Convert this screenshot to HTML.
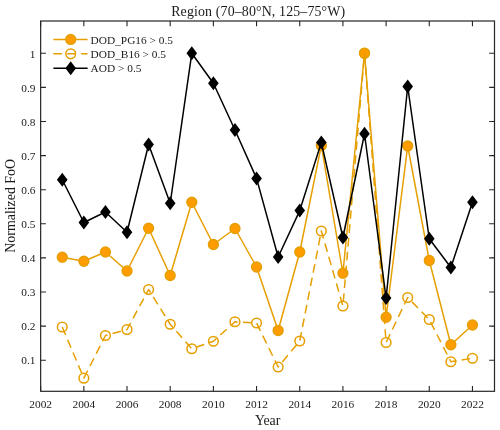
<!DOCTYPE html>
<html><head><meta charset="utf-8"><title>Region (70–80°N, 125–75°W)</title>
<style>
html,body{margin:0;padding:0;background:#fff}
svg{display:block}
text{font-family:"Liberation Serif","DejaVu Serif",serif;fill:#1a1a1a}
.t{font-size:11.35px}
.l{font-size:13.9px}
</style></head><body>
<svg width="500" height="430" viewBox="0 0 500 430">
<rect width="500" height="430" fill="#fff"/>
<polyline points="62.25,257.25 83.84,261.25 105.43,252.00 127.02,271.00 148.61,228.25 170.20,275.50 191.79,202.25 213.38,244.50 234.97,228.50 256.56,267.00 278.15,330.50 299.74,252.00 321.33,145.40 342.92,273.25 364.51,53.25 386.10,317.25 407.69,146.00 429.28,260.50 450.87,344.75 472.46,325.00" fill="none" stroke="#E69F00" stroke-width="1.5" stroke-linejoin="round"/>
<circle cx="62.25" cy="257.25" r="4.9" fill="#FF9C00" stroke="#E69F00" stroke-width="1.5"/>
<circle cx="83.84" cy="261.25" r="4.9" fill="#FF9C00" stroke="#E69F00" stroke-width="1.5"/>
<circle cx="105.43" cy="252.00" r="4.9" fill="#FF9C00" stroke="#E69F00" stroke-width="1.5"/>
<circle cx="127.02" cy="271.00" r="4.9" fill="#FF9C00" stroke="#E69F00" stroke-width="1.5"/>
<circle cx="148.61" cy="228.25" r="4.9" fill="#FF9C00" stroke="#E69F00" stroke-width="1.5"/>
<circle cx="170.20" cy="275.50" r="4.9" fill="#FF9C00" stroke="#E69F00" stroke-width="1.5"/>
<circle cx="191.79" cy="202.25" r="4.9" fill="#FF9C00" stroke="#E69F00" stroke-width="1.5"/>
<circle cx="213.38" cy="244.50" r="4.9" fill="#FF9C00" stroke="#E69F00" stroke-width="1.5"/>
<circle cx="234.97" cy="228.50" r="4.9" fill="#FF9C00" stroke="#E69F00" stroke-width="1.5"/>
<circle cx="256.56" cy="267.00" r="4.9" fill="#FF9C00" stroke="#E69F00" stroke-width="1.5"/>
<circle cx="278.15" cy="330.50" r="4.9" fill="#FF9C00" stroke="#E69F00" stroke-width="1.5"/>
<circle cx="299.74" cy="252.00" r="4.9" fill="#FF9C00" stroke="#E69F00" stroke-width="1.5"/>
<circle cx="321.33" cy="145.40" r="4.9" fill="#FF9C00" stroke="#E69F00" stroke-width="1.5"/>
<circle cx="342.92" cy="273.25" r="4.9" fill="#FF9C00" stroke="#E69F00" stroke-width="1.5"/>
<circle cx="364.51" cy="53.25" r="4.9" fill="#FF9C00" stroke="#E69F00" stroke-width="1.5"/>
<circle cx="386.10" cy="317.25" r="4.9" fill="#FF9C00" stroke="#E69F00" stroke-width="1.5"/>
<circle cx="407.69" cy="146.00" r="4.9" fill="#FF9C00" stroke="#E69F00" stroke-width="1.5"/>
<circle cx="429.28" cy="260.50" r="4.9" fill="#FF9C00" stroke="#E69F00" stroke-width="1.5"/>
<circle cx="450.87" cy="344.75" r="4.9" fill="#FF9C00" stroke="#E69F00" stroke-width="1.5"/>
<circle cx="472.46" cy="325.00" r="4.9" fill="#FF9C00" stroke="#E69F00" stroke-width="1.5"/>
<polyline points="62.25,327.00 83.84,378.20 105.43,335.50 127.02,329.50 148.61,289.50 170.20,324.25 191.79,348.75 213.38,341.25 234.97,321.75 256.56,323.00 278.15,367.00 299.74,341.00 321.33,231.00 342.92,306.00 364.51,53.25 386.10,342.50 407.69,297.50 429.28,319.50 450.87,361.75 472.46,358.25" fill="none" stroke="#E69F00" stroke-width="1.5" stroke-dasharray="8.66 5.19" stroke-linejoin="round"/>
<circle cx="62.25" cy="327.00" r="4.85" fill="none" stroke="#E69F00" stroke-width="1.5"/>
<circle cx="83.84" cy="378.20" r="4.85" fill="none" stroke="#E69F00" stroke-width="1.5"/>
<circle cx="105.43" cy="335.50" r="4.85" fill="none" stroke="#E69F00" stroke-width="1.5"/>
<circle cx="127.02" cy="329.50" r="4.85" fill="none" stroke="#E69F00" stroke-width="1.5"/>
<circle cx="148.61" cy="289.50" r="4.85" fill="none" stroke="#E69F00" stroke-width="1.5"/>
<circle cx="170.20" cy="324.25" r="4.85" fill="none" stroke="#E69F00" stroke-width="1.5"/>
<circle cx="191.79" cy="348.75" r="4.85" fill="none" stroke="#E69F00" stroke-width="1.5"/>
<circle cx="213.38" cy="341.25" r="4.85" fill="none" stroke="#E69F00" stroke-width="1.5"/>
<circle cx="234.97" cy="321.75" r="4.85" fill="none" stroke="#E69F00" stroke-width="1.5"/>
<circle cx="256.56" cy="323.00" r="4.85" fill="none" stroke="#E69F00" stroke-width="1.5"/>
<circle cx="278.15" cy="367.00" r="4.85" fill="none" stroke="#E69F00" stroke-width="1.5"/>
<circle cx="299.74" cy="341.00" r="4.85" fill="none" stroke="#E69F00" stroke-width="1.5"/>
<circle cx="321.33" cy="231.00" r="4.85" fill="none" stroke="#E69F00" stroke-width="1.5"/>
<circle cx="342.92" cy="306.00" r="4.85" fill="none" stroke="#E69F00" stroke-width="1.5"/>
<circle cx="364.51" cy="53.25" r="4.85" fill="none" stroke="#E69F00" stroke-width="1.5"/>
<circle cx="386.10" cy="342.50" r="4.85" fill="none" stroke="#E69F00" stroke-width="1.5"/>
<circle cx="407.69" cy="297.50" r="4.85" fill="none" stroke="#E69F00" stroke-width="1.5"/>
<circle cx="429.28" cy="319.50" r="4.85" fill="none" stroke="#E69F00" stroke-width="1.5"/>
<circle cx="450.87" cy="361.75" r="4.85" fill="none" stroke="#E69F00" stroke-width="1.5"/>
<circle cx="472.46" cy="358.25" r="4.85" fill="none" stroke="#E69F00" stroke-width="1.5"/>
<polyline points="62.25,179.75 83.84,222.50 105.43,212.00 127.02,232.25 148.61,144.50 170.20,203.25 191.79,53.30 213.38,83.25 234.97,130.00 256.56,178.40 278.15,257.00 299.74,210.60 321.33,142.50 342.92,237.50 364.51,133.75 386.10,298.00 407.69,86.50 429.28,238.75 450.87,267.50 472.46,202.25" fill="none" stroke="#000" stroke-width="1.5" stroke-linejoin="round"/>
<path d="M62.25 172.75L67.55 179.75L62.25 186.75L56.95 179.75Z" fill="#000"/>
<path d="M83.84 215.50L89.14 222.50L83.84 229.50L78.54 222.50Z" fill="#000"/>
<path d="M105.43 205.00L110.73 212.00L105.43 219.00L100.13 212.00Z" fill="#000"/>
<path d="M127.02 225.25L132.32 232.25L127.02 239.25L121.72 232.25Z" fill="#000"/>
<path d="M148.61 137.50L153.91 144.50L148.61 151.50L143.31 144.50Z" fill="#000"/>
<path d="M170.20 196.25L175.50 203.25L170.20 210.25L164.90 203.25Z" fill="#000"/>
<path d="M191.79 46.30L197.09 53.30L191.79 60.30L186.49 53.30Z" fill="#000"/>
<path d="M213.38 76.25L218.68 83.25L213.38 90.25L208.08 83.25Z" fill="#000"/>
<path d="M234.97 123.00L240.27 130.00L234.97 137.00L229.67 130.00Z" fill="#000"/>
<path d="M256.56 171.40L261.86 178.40L256.56 185.40L251.26 178.40Z" fill="#000"/>
<path d="M278.15 250.00L283.45 257.00L278.15 264.00L272.85 257.00Z" fill="#000"/>
<path d="M299.74 203.60L305.04 210.60L299.74 217.60L294.44 210.60Z" fill="#000"/>
<path d="M321.33 135.50L326.63 142.50L321.33 149.50L316.03 142.50Z" fill="#000"/>
<path d="M342.92 230.50L348.22 237.50L342.92 244.50L337.62 237.50Z" fill="#000"/>
<path d="M364.51 126.75L369.81 133.75L364.51 140.75L359.21 133.75Z" fill="#000"/>
<path d="M386.10 291.00L391.40 298.00L386.10 305.00L380.80 298.00Z" fill="#000"/>
<path d="M407.69 79.50L412.99 86.50L407.69 93.50L402.39 86.50Z" fill="#000"/>
<path d="M429.28 231.75L434.58 238.75L429.28 245.75L423.98 238.75Z" fill="#000"/>
<path d="M450.87 260.50L456.17 267.50L450.87 274.50L445.57 267.50Z" fill="#000"/>
<path d="M472.46 195.25L477.76 202.25L472.46 209.25L467.16 202.25Z" fill="#000"/>
<rect x="40.65" y="21.00" width="453.85" height="370.30" fill="none" stroke="#262626" stroke-width="1.2"/>
<path d="M40.66 391.30v-5.30M40.66 21.00v5.30M83.84 391.30v-5.30M83.84 21.00v5.30M127.02 391.30v-5.30M127.02 21.00v5.30M170.20 391.30v-5.30M170.20 21.00v5.30M213.38 391.30v-5.30M213.38 21.00v5.30M256.56 391.30v-5.30M256.56 21.00v5.30M299.74 391.30v-5.30M299.74 21.00v5.30M342.92 391.30v-5.30M342.92 21.00v5.30M386.10 391.30v-5.30M386.10 21.00v5.30M429.28 391.30v-5.30M429.28 21.00v5.30M472.46 391.30v-5.30M472.46 21.00v5.30M40.65 360.20h5.30M494.50 360.20h-5.30M40.65 326.10h5.30M494.50 326.10h-5.30M40.65 292.00h5.30M494.50 292.00h-5.30M40.65 257.90h5.30M494.50 257.90h-5.30M40.65 223.80h5.30M494.50 223.80h-5.30M40.65 189.70h5.30M494.50 189.70h-5.30M40.65 155.60h5.30M494.50 155.60h-5.30M40.65 121.50h5.30M494.50 121.50h-5.30M40.65 87.40h5.30M494.50 87.40h-5.30M40.65 53.30h5.30M494.50 53.30h-5.30" stroke="#262626" stroke-width="1.1" fill="none"/>
<text class="t" x="40.66" y="407.8" text-anchor="middle">2002</text>
<text class="t" x="83.84" y="407.8" text-anchor="middle">2004</text>
<text class="t" x="127.02" y="407.8" text-anchor="middle">2006</text>
<text class="t" x="170.20" y="407.8" text-anchor="middle">2008</text>
<text class="t" x="213.38" y="407.8" text-anchor="middle">2010</text>
<text class="t" x="256.56" y="407.8" text-anchor="middle">2012</text>
<text class="t" x="299.74" y="407.8" text-anchor="middle">2014</text>
<text class="t" x="342.92" y="407.8" text-anchor="middle">2016</text>
<text class="t" x="386.10" y="407.8" text-anchor="middle">2018</text>
<text class="t" x="429.28" y="407.8" text-anchor="middle">2020</text>
<text class="t" x="472.46" y="407.8" text-anchor="middle">2022</text>
<text class="t" x="35.5" y="364.40" text-anchor="end">0.1</text>
<text class="t" x="35.5" y="330.30" text-anchor="end">0.2</text>
<text class="t" x="35.5" y="296.20" text-anchor="end">0.3</text>
<text class="t" x="35.5" y="262.10" text-anchor="end">0.4</text>
<text class="t" x="35.5" y="228.00" text-anchor="end">0.5</text>
<text class="t" x="35.5" y="193.90" text-anchor="end">0.6</text>
<text class="t" x="35.5" y="159.80" text-anchor="end">0.7</text>
<text class="t" x="35.5" y="125.70" text-anchor="end">0.8</text>
<text class="t" x="35.5" y="91.60" text-anchor="end">0.9</text>
<text class="t" x="35.5" y="57.50" text-anchor="end">1</text>
<text class="l" x="267.6" y="424.8" text-anchor="middle" textLength="25.4" lengthAdjust="spacing">Year</text>
<text class="l" transform="translate(14.9 205.8) rotate(-90)" text-anchor="middle">Normalized FoO</text>
<text class="l" x="258.2" y="15.8" text-anchor="middle" textLength="174" lengthAdjust="spacing">Region (70–80°N, 125–75°W)</text>
<path d="M53.40 39.40H87.60" stroke="#E69F00" stroke-width="1.5"/>
<circle cx="70.70" cy="39.40" r="4.9" fill="#FF9C00" stroke="#E69F00" stroke-width="1.5"/>
<path d="M53.40 53.80H87.60" stroke="#E69F00" stroke-width="1.5" stroke-dasharray="8.66 5.19"/>
<circle cx="70.70" cy="53.80" r="4.85" fill="none" stroke="#E69F00" stroke-width="1.5"/>
<path d="M53.40 68.20H87.60" stroke="#000" stroke-width="1.5"/>
<path d="M70.70 61.20L76.00 68.20L70.70 75.20L65.40 68.20Z" fill="#000"/>
<text class="t" x="90.6" y="43.60">DOD_PG16 &gt; 0.5</text>
<text class="t" x="90.6" y="58.00">DOD_B16 &gt; 0.5</text>
<text class="t" x="90.6" y="72.40">AOD &gt; 0.5</text>
</svg></body></html>
